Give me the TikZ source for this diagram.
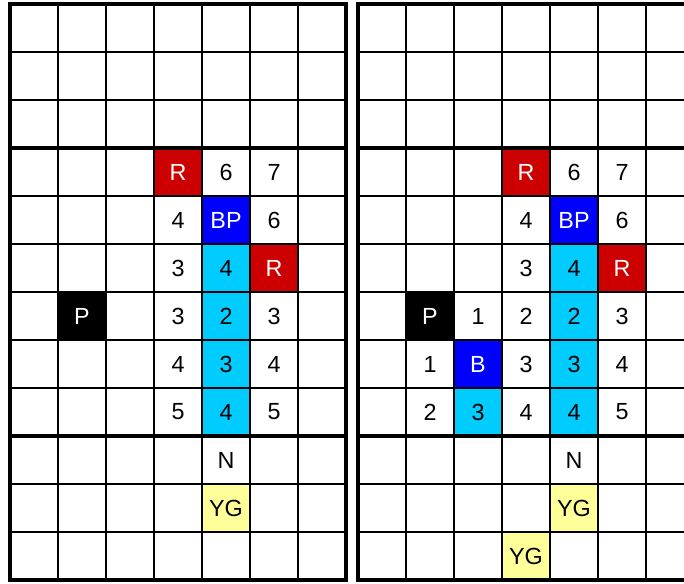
\documentclass[tikz,border=0pt]{standalone}
\usepackage{fontspec}
\setmainfont{Liberation Sans}
\usetikzlibrary{positioning}
\definecolor{boardred}{RGB}{204, 0, 0}
\definecolor{boardblue}{RGB}{0, 0, 255}
\definecolor{boardcyan}{RGB}{0, 204, 255}
\definecolor{boardyellow}{RGB}{255, 255, 153}

\begin{document}
\begin{tikzpicture}[
    x=0.75pt, y=-0.75pt,
    cell/.style={minimum size=36pt, inner sep=0pt, align=center, font=\fontsize{17.5pt}{21pt}\selectfont},
    redcell/.style={cell, fill=boardred, text=white},
    bluecell/.style={cell, fill=boardblue, text=white},
    pathcell/.style={cell, fill=boardcyan},
    goalcell/.style={cell, fill=boardyellow},
    playercell/.style={cell, fill=black, text=white},
    thinline/.style={line width=1.1pt, black},
    thickline/.style={line width=2.3pt, black, line join=miter}
]
    \clip (0, 0) rectangle (684, 583);
    \fill[white] (0, 0) rectangle (684, 583);

    % --- LEFT BOARD ---
    \node[redcell] (lr3c3) at (178, 172) {R};
    \node[cell] (lr3c4) at (226, 172) {6};
    \node[cell] (lr3c5) at (274, 172) {7};

    \node[cell] (lr4c3) at (178, 220) {4};
    \node[bluecell] (lr4c4) at (226, 220) {BP};
    \node[cell] (lr4c5) at (274, 220) {6};

    \node[cell] (lr5c3) at (178, 268) {3};
    \node[pathcell] (lr5c4) at (226, 268) {4};
    \node[redcell] (lr5c5) at (274, 268) {R};

    \node[playercell] (lr6c1) at (82, 316) {P};
    \node[cell] (lr6c3) at (178, 316) {3};
    \node[pathcell] (lr6c4) at (226, 316) {2};
    \node[cell] (lr6c5) at (274, 316) {3};

    \node[cell] (lr7c3) at (178, 364) {4};
    \node[pathcell] (lr7c4) at (226, 364) {3};
    \node[cell] (lr7c5) at (274, 364) {4};

    \node[cell] (lr8c3) at (178, 412) {5};
    \node[pathcell] (lr8c4) at (226, 412) {4};
    \node[cell] (lr8c5) at (274, 412) {5};

    \node[cell] (lr9c4) at (226, 460) {N};
    \node[goalcell] (lr10c4) at (226, 508) {YG};

    % --- RIGHT BOARD ---
    \node[redcell] (rr3c3) at (526, 172) {R};
    \node[cell] (rr3c4) at (574, 172) {6};
    \node[cell] (rr3c5) at (622, 172) {7};

    \node[cell] (rr4c3) at (526, 220) {4};
    \node[bluecell] (rr4c4) at (574, 220) {BP};
    \node[cell] (rr4c5) at (622, 220) {6};

    \node[cell] (rr5c3) at (526, 268) {3};
    \node[pathcell] (rr5c4) at (574, 268) {4};
    \node[redcell] (rr5c5) at (622, 268) {R};

    \node[playercell] (rr6c1) at (430, 316) {P};
    \node[cell] (rr6c2) at (478, 316) {1};
    \node[cell] (rr6c3) at (526, 316) {2};
    \node[pathcell] (rr6c4) at (574, 316) {2};
    \node[cell] (rr6c5) at (622, 316) {3};

    \node[cell] (rr7c1) at (430, 364) {1};
    \node[bluecell] (rr7c2) at (478, 364) {B};
    \node[cell] (rr7c3) at (526, 364) {3};
    \node[pathcell] (rr7c4) at (574, 364) {3};
    \node[cell] (rr7c5) at (622, 364) {4};

    \node[cell] (rr8c1) at (430, 412) {2};
    \node[pathcell] (rr8c2) at (478, 412) {3};
    \node[cell] (rr8c3) at (526, 412) {4};
    \node[pathcell] (rr8c4) at (574, 412) {4};
    \node[cell] (rr8c5) at (622, 412) {5};

    \node[cell] (rr9c4) at (574, 460) {N};
    \node[goalcell] (rr10c4) at (574, 508) {YG};
    \node[goalcell] (rr11c3) at (526, 556) {YG};

    % --- GRID LINES ---
    \foreach \left in {10, 358} {
        \foreach \i in {1,...,6}
            \draw[thinline] (\left + 48*\i, 4) -- (\left + 48*\i, 580);
        \foreach \j in {1, 2, 4, 5, 6, 7, 8, 10, 11}
            \draw[thinline] (\left, 4 + 48*\j) -- (\left + 336, 4 + 48*\j);
        \draw[thickline] (\left, 148) -- (\left + 336, 148);
        \draw[thickline] (\left, 436) -- (\left + 336, 436);
        \draw[thickline] (\left, 4) rectangle (\left + 336, 580);
    }

\end{tikzpicture}
\end{document}
